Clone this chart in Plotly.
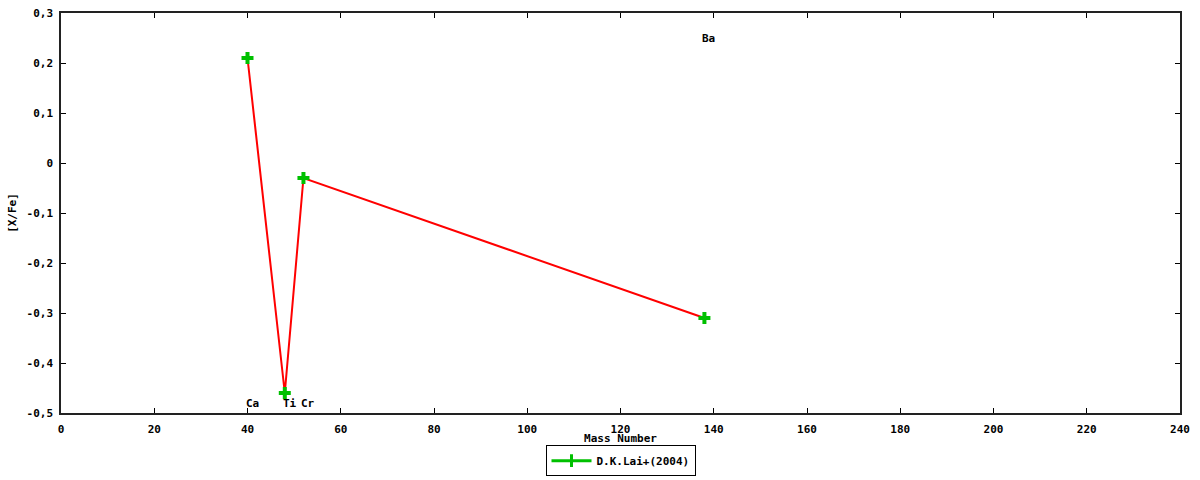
import plotly.graph_objects as go

# ---- data ----
elements = ["Ca", "Ti", "Cr", "Ba"]
mass_number = [40, 48, 52, 138]
x_fe = [0.21, -0.46, -0.03, -0.31]
label_y = [-0.48, -0.48, -0.48, 0.25]
series_name = "D.K.Lai+(2004)"

x_tickvals = [0, 20, 40, 60, 80, 100, 120, 140, 160, 180, 200, 220, 240]
x_ticktext = ["0", "20", "40", "60", "80", "100", "120", "140", "160", "180", "200", "220", "240"]
y_tickvals = [-0.5, -0.4, -0.3, -0.2, -0.1, 0, 0.1, 0.2, 0.3]
y_ticktext = ["-0,5", "-0,4", "-0,3", "-0,2", "-0,1", "0", "0,1", "0,2", "0,3"]

FONT = dict(family="DejaVu Sans Mono", size=11, color="black", weight="bold")
GREEN = "#00c000"
RED = "#ff0000"

fig = go.Figure()

# red connecting line
fig.add_trace(go.Scatter(
    x=mass_number, y=x_fe, mode="lines",
    line=dict(color=RED, width=2), showlegend=False, hoverinfo="skip"))

# green cross markers
fig.add_trace(go.Scatter(
    x=mass_number, y=x_fe, mode="markers",
    marker=dict(symbol="cross", size=10, color=GREEN, line=dict(width=0)),
    name=series_name, showlegend=False))

# legend entry (errorbar-style sample)
fig.add_trace(go.Scatter(
    x=[None], y=[None], mode="lines+markers", name=series_name,
    line=dict(color=GREEN, width=3),
    marker=dict(symbol="line-ns-open", size=9, color=GREEN, line=dict(color=GREEN, width=3))))

for el, m, ly in zip(elements, mass_number, label_y):
    fig.add_annotation(x=m, y=ly, text=el, showarrow=False,
                       xanchor="left", yanchor="middle", xshift=-4,
                       font=FONT)

axis_common = dict(
    showgrid=False, zeroline=False, showline=True, linecolor="#222", linewidth=1.5,
    mirror="ticks", ticks="inside", ticklen=5, tickwidth=1, tickcolor="black",
    tickfont=FONT, automargin=False,
)

fig.update_layout(
    width=1200, height=480,
    margin=dict(l=61, r=20, t=13, b=67),
    paper_bgcolor="white", plot_bgcolor="white",
    font=FONT,
    showlegend=True,
    legend=dict(
        orientation="h", x=0.5, xanchor="center", y=0.008, yanchor="bottom",
        yref="container",
        bordercolor="black", borderwidth=1, bgcolor="white",
        font=FONT, itemwidth=40, tracegroupgap=0,
    ),
    xaxis=dict(
        range=[0, 240], tickvals=x_tickvals, ticktext=x_ticktext,
        title=dict(text="Mass Number", font=FONT, standoff=6),
        ticklabelstandoff=5,
        **axis_common,
    ),
    yaxis=dict(
        range=[-0.5, 0.3], tickvals=y_tickvals, ticktext=y_ticktext,
        title=dict(text="[X/Fe]", font=FONT, standoff=8),
        ticklabelstandoff=4,
        **axis_common,
    ),
)

fig.write_html("out.html", config={"displayModeBar": False},
               post_script="document.body.style.margin='0';document.body.style.overflow='hidden';")
